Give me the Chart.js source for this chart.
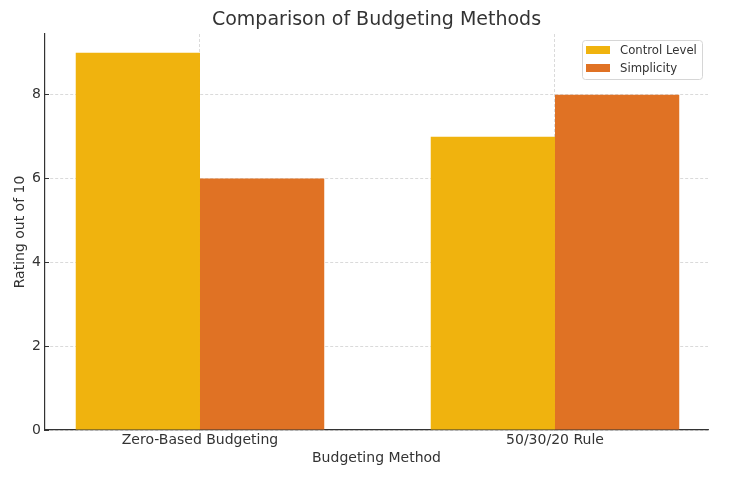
<!DOCTYPE html>
<html>
<head>
<meta charset="utf-8">
<script src="https://cdn.jsdelivr.net/npm/chart.js@4.4.1/dist/chart.umd.min.js"></script>
<style>
  html, body { margin: 0; padding: 0; background: #fff; }
  #wrap { width: 729px; height: 483px; position: relative; }
</style>
</head>
<body>
<div id="wrap"><canvas id="chart"></canvas></div>
<script>
// chart data
const methods = ['Zero-Based Budgeting', '50/30/20 Rule'];
const controlLevel = [9, 7];
const simplicity = [6, 8];
const yTicks = [0, 2, 4, 6, 8];

const seriesNames = ['Control Level', 'Simplicity'];
const seriesColors = ['#F0B30E', '#E07224'];

Chart.defaults.font.family = "'DejaVu Sans', sans-serif";
Chart.defaults.color = '#333';

// matplotlib-like legend box in the top right corner of the plot
const boxLegend = {
  id: 'boxLegend',
  afterDraw(chart) {
    let ctx = chart.ctx;
    let area = chart.chartArea;
    let w = 120, h = 39;
    let x = area.right - 6 - w;
    let y = area.top + 6;
    ctx.save();
    ctx.beginPath();
    ctx.roundRect(x + 0.5, y + 0.5, w, h, 3);
    ctx.fillStyle = 'rgba(255,255,255,0.8)';
    ctx.fill();
    ctx.strokeStyle = '#d6d6d6';
    ctx.lineWidth = 1;
    ctx.stroke();
    ctx.font = "11.7px 'DejaVu Sans'";
    ctx.textBaseline = 'middle';
    chart.data.datasets.forEach(function(ds, i) {
      let cy = y + 10 + i * 18;
      ctx.fillStyle = ds.backgroundColor;
      ctx.fillRect(x + 4, cy - 4, 24, 8);
      ctx.fillStyle = '#333';
      ctx.fillText(ds.label, x + 38, cy + 0.5);
    });
    ctx.restore();
  }
};

let ctx = document.getElementById('chart').getContext('2d');

new Chart(ctx, {
  type: 'bar',
  data: {
    datasets: [
      {
        label: seriesNames[0],
        data: methods.map((m, i) => ({ x: i, y: controlLevel[i] })),
        backgroundColor: seriesColors[0]
      },
      {
        label: seriesNames[1],
        data: methods.map((m, i) => ({ x: i, y: simplicity[i] })),
        backgroundColor: seriesColors[1]
      }
    ]
  },
  options: {
    responsive: true,
    maintainAspectRatio: false,
    animation: false,
    categoryPercentage: 0.7,
    barPercentage: 1.0,
    layout: { padding: { left: 0, right: 21, top: 0, bottom: 0 } },
    plugins: {
      legend: { display: false },
      tooltip: { enabled: false },
      title: {
        display: true,
        fullSize: false,
        text: 'Comparison of Budgeting Methods',
        color: '#333',
        font: { size: 19, weight: 'normal' },
        padding: { top: 9, bottom: 2.2 }
      }
    },
    scales: {
      x: {
        type: 'linear',
        offset: false,
        min: -0.4366,
        max: 1.431,
        afterBuildTicks: function(axis) {
          axis.ticks = methods.map((m, i) => ({ value: i }));
        },
        afterFit: function(scale) { scale.height = 53; },
        ticks: {
          callback: function(value) { return methods[value]; },
          font: { size: 14 },
          color: '#333',
          maxRotation: 0,
          autoSkip: false,
          padding: 5.6
        },
        grid: {
          offset: false,
          color: '#d0d0d0',
          lineWidth: 0.8,
          tickLength: -4,
          tickColor: '#333',
          tickWidth: 1
        },
        border: { display: true, color: '#333', width: 1.2, dash: [3, 2] },
        title: {
          display: true,
          text: 'Budgeting Method',
          color: '#333',
          font: { size: 14 },
          padding: { top: 0, bottom: 16.6 }
        }
      },
      y: {
        min: 0,
        max: 9.45,
        afterBuildTicks: function(axis) {
          axis.ticks = yTicks.map(v => ({ value: v }));
        },
        afterFit: function(scale) { scale.width = 45; },
        ticks: {
          font: { size: 14 },
          color: '#333',
          padding: 8
        },
        grid: {
          color: '#d0d0d0',
          lineWidth: 0.8,
          tickLength: -4,
          tickColor: '#333',
          tickWidth: 1
        },
        border: { display: true, color: '#333', width: 1.2, dash: [3, 2] },
        title: {
          display: true,
          text: 'Rating out of 10',
          color: '#333',
          font: { size: 14 },
          padding: { top: 11.6, bottom: 0 }
        }
      }
    }
  },
  plugins: [boxLegend]
});
</script>
</body>
</html>
